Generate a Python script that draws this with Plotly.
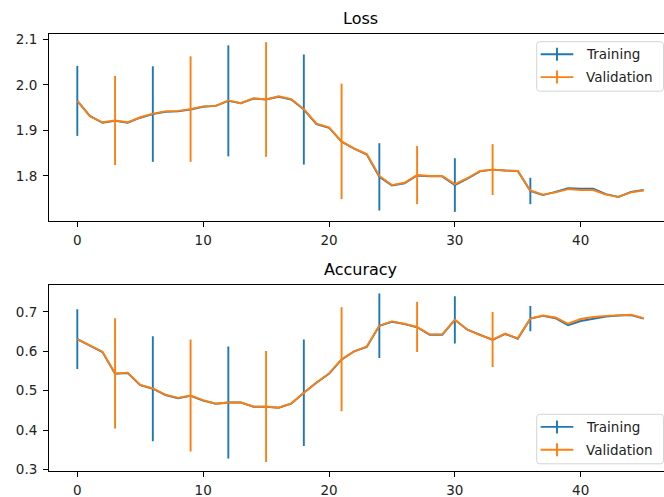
import plotly.graph_objects as go

epochs = list(range(46))

loss_val = [1.965, 1.931, 1.918, 1.922, 1.918, 1.929, 1.937, 1.942, 1.943, 1.947,
            1.953, 1.954, 1.966, 1.960, 1.971, 1.968, 1.975, 1.969, 1.947, 1.915,
            1.907, 1.876, 1.860, 1.848, 1.800, 1.780, 1.785, 1.802, 1.800, 1.800,
            1.782, 1.795, 1.811, 1.814, 1.812, 1.811, 1.768, 1.759, 1.764, 1.771,
            1.769, 1.769, 1.759, 1.754, 1.764, 1.768]
loss_train = [1.965, 1.932, 1.917, 1.921, 1.917, 1.928, 1.936, 1.941, 1.942, 1.946,
              1.952, 1.954, 1.965, 1.960, 1.970, 1.968, 1.974, 1.968, 1.946, 1.914,
              1.906, 1.875, 1.860, 1.847, 1.798, 1.779, 1.784, 1.801, 1.799, 1.799,
              1.780, 1.794, 1.810, 1.814, 1.812, 1.811, 1.767, 1.758, 1.765, 1.773,
              1.772, 1.772, 1.760, 1.754, 1.765, 1.769]

acc_val = [0.631, 0.616, 0.599, 0.544, 0.546, 0.515, 0.506, 0.490, 0.482, 0.488,
           0.476, 0.467, 0.470, 0.470, 0.460, 0.460, 0.457, 0.468, 0.495, 0.521,
           0.544, 0.580, 0.600, 0.612, 0.665, 0.676, 0.670, 0.662, 0.643, 0.643,
           0.680, 0.655, 0.641, 0.630, 0.645, 0.633, 0.683, 0.691, 0.686, 0.670,
           0.682, 0.687, 0.690, 0.692, 0.693, 0.684]
acc_train = [0.631, 0.615, 0.598, 0.543, 0.545, 0.514, 0.505, 0.489, 0.481, 0.487,
             0.475, 0.467, 0.470, 0.470, 0.459, 0.459, 0.457, 0.467, 0.495, 0.520,
             0.543, 0.579, 0.600, 0.611, 0.665, 0.675, 0.669, 0.661, 0.642, 0.642,
             0.680, 0.655, 0.641, 0.629, 0.644, 0.632, 0.683, 0.690, 0.684, 0.666,
             0.677, 0.682, 0.688, 0.691, 0.692, 0.683]

train_err_idx = [0, 6, 12, 18, 24, 30, 36]
val_err_idx = [3, 9, 15, 21, 27, 33]
loss_train_err = [0.077, 0.105, 0.122, 0.121, 0.074, 0.059, 0.029]
loss_val_err = [0.098, 0.116, 0.126, 0.127, 0.064, 0.056]
acc_train_err = [0.076, 0.133, 0.142, 0.135, 0.082, 0.060, 0.032]
acc_val_err = [0.140, 0.142, 0.141, 0.132, 0.064, 0.070]

series_names = ["Training", "Validation"]
C_TRAIN = "#1f77b4"
C_VAL = "#ff7f0e"

W, H = 664, 497
ML, MR, MT, MB = 49, 0, 34, 26
PW = W - ML - MR
PH = H - MT - MB
TOP_PIX = (34, 221)
BOT_PIX = (284.7, 471)


def fx(px):
    return (px - ML) / PW


def fy(py):
    return (H - MB - py) / PH


fig = go.Figure()


def add_series(y, idx, err, color, name, xa, ya):
    fig.add_trace(go.Scatter(x=epochs, y=y, mode="lines", name=name,
                             line=dict(color=color, width=1.9),
                             xaxis=xa, yaxis=ya, showlegend=False,
                             hoverinfo="skip"))
    fig.add_trace(go.Scatter(x=[epochs[i] for i in idx], y=[y[i] for i in idx],
                             mode="markers",
                             marker=dict(size=1, color="rgba(0,0,0,0)"),
                             error_y=dict(type="data", array=err, visible=True,
                                          color=color, thickness=1.9, width=0),
                             xaxis=xa, yaxis=ya, showlegend=False,
                             hoverinfo="skip"))


add_series(loss_train, train_err_idx, loss_train_err, C_TRAIN, "Training", "x", "y")
add_series(loss_val, val_err_idx, loss_val_err, C_VAL, "Validation", "x", "y")
add_series(acc_train, train_err_idx, acc_train_err, C_TRAIN, "Training", "x2", "y2")
add_series(acc_val, val_err_idx, acc_val_err, C_VAL, "Validation", "x2", "y2")

FONT = "DejaVu Sans"
axis_common = dict(showline=True, linecolor="black", linewidth=1, mirror=True,
                   ticks="outside", ticklen=5, tickwidth=1, tickcolor="black",
                   showgrid=False, zeroline=False,
                   tickfont=dict(family=FONT, size=13.5, color="#222"))

xrange_ = [-2.25, 46.62]
fig.update_layout(
    width=W, height=H,
    margin=dict(l=ML, r=MR, t=MT, b=MB),
    plot_bgcolor="white", paper_bgcolor="white",
    showlegend=False,
    xaxis=dict(domain=[0, 1], range=xrange_, anchor="y", dtick=10, tick0=0,
               ticklabelstandoff=2, **axis_common),
    yaxis=dict(domain=[fy(TOP_PIX[1]), fy(TOP_PIX[0])], range=[1.701, 2.112],
               anchor="x", dtick=0.1, tick0=1.8, tickformat=".1f",
               ticklabelstandoff=3, **axis_common),
    xaxis2=dict(domain=[0, 1], range=xrange_, anchor="y2", dtick=10, tick0=0,
                ticklabelstandoff=2, **axis_common),
    yaxis2=dict(domain=[fy(BOT_PIX[1]), fy(BOT_PIX[0])], range=[0.2963, 0.7691],
                anchor="x2", dtick=0.1, tick0=0.3, tickformat=".1f",
                ticklabelstandoff=3, **axis_common),
)

title_x = fx(360.8)
annotations = [
    dict(text="Loss", x=title_x, y=fy(TOP_PIX[0]), xref="paper", yref="paper",
         xanchor="center", yanchor="bottom", yshift=4, showarrow=False,
         font=dict(family=FONT, size=16, color="black")),
    dict(text="Accuracy", x=title_x, y=fy(BOT_PIX[0]), xref="paper", yref="paper",
         xanchor="center", yanchor="bottom", yshift=4, showarrow=False,
         font=dict(family=FONT, size=16, color="black")),
]
shapes = []


def rounded_box(x0, y0, x1, y1, r=3):
    X = lambda p: fx(p)
    Y = lambda p: fy(p)
    return (f"M {X(x0+r)},{Y(y0)} L {X(x1-r)},{Y(y0)} Q {X(x1)},{Y(y0)} {X(x1)},{Y(y0+r)} "
            f"L {X(x1)},{Y(y1-r)} Q {X(x1)},{Y(y1)} {X(x1-r)},{Y(y1)} "
            f"L {X(x0+r)},{Y(y1)} Q {X(x0)},{Y(y1)} {X(x0)},{Y(y1-r)} "
            f"L {X(x0)},{Y(y0+r)} Q {X(x0)},{Y(y0)} {X(x0+r)},{Y(y0)} Z")


def add_legend(top):
    box_top = top
    box_bot = top + 49.5
    shapes.append(dict(type="path", xref="paper", yref="paper",
                       path=rounded_box(536.7, box_top, 663.5, box_bot),
                       line=dict(color="#d4d4d4", width=1),
                       fillcolor="rgba(255,255,255,0.85)", layer="above"))
    for k, (name, col) in enumerate(zip(series_names, [C_TRAIN, C_VAL])):
        yc = box_top + 12.6 + k * 22.8
        shapes.append(dict(type="line", xref="paper", yref="paper",
                           x0=fx(540.7), x1=fx(573.3), y0=fy(yc), y1=fy(yc),
                           line=dict(color=col, width=1.9), layer="above"))
        shapes.append(dict(type="line", xref="paper", yref="paper",
                           x0=fx(557), x1=fx(557), y0=fy(yc - 6.5), y1=fy(yc + 6.5),
                           line=dict(color=col, width=1.9), layer="above"))
        annotations.append(dict(text=name, x=fx(584.3), y=fy(yc), xref="paper",
                                yref="paper", xanchor="left", yanchor="middle",
                                showarrow=False,
                                font=dict(family=FONT, size=13.5, color="#222")))


add_legend(41.7)
add_legend(414.3)

fig.update_layout(annotations=annotations, shapes=shapes)
fig.write_html(
    "out.html",
    config={"displayModeBar": False},
    post_script="document.body.style.margin='0';document.body.style.overflow='hidden';",
)
